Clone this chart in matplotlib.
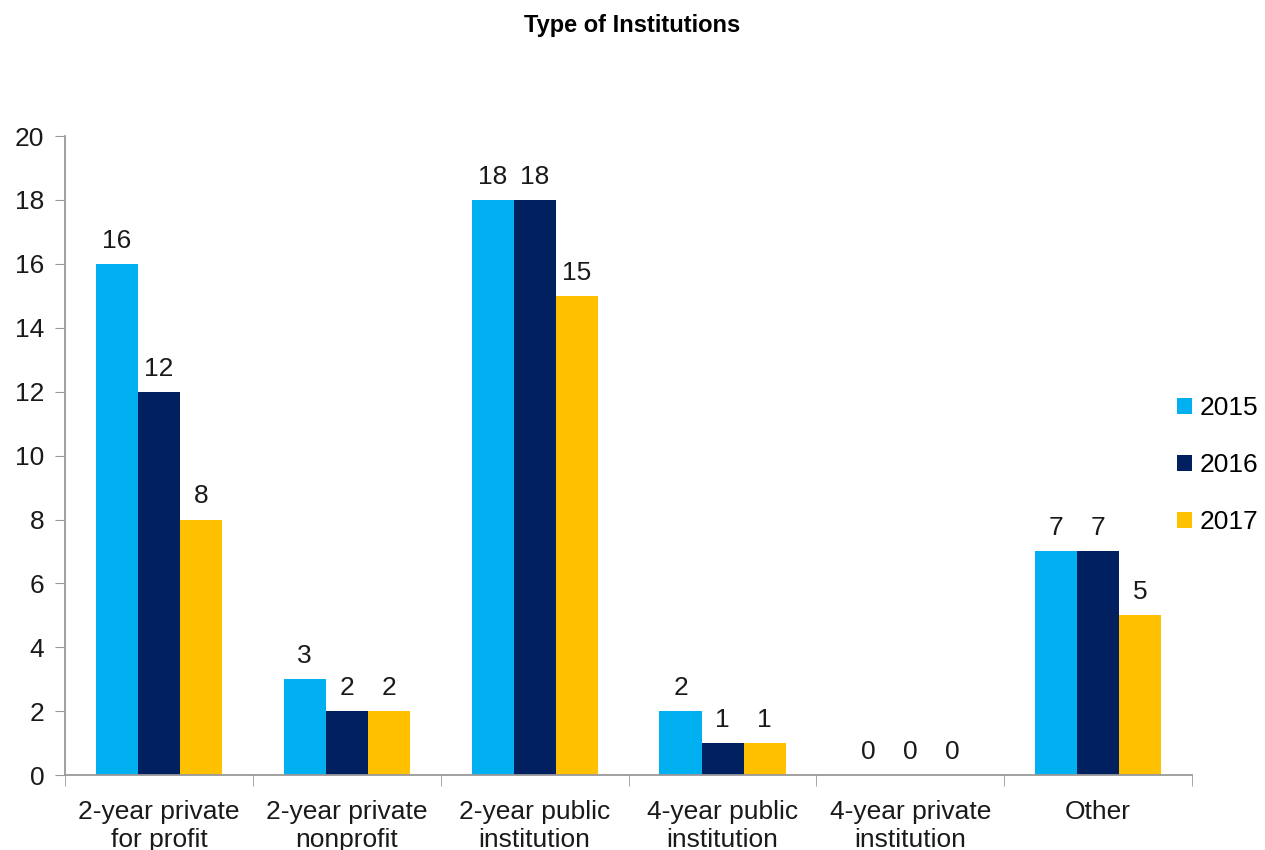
import numpy as np
import matplotlib.pyplot as plt

plt.rcParams['font.family'] = ['Liberation Sans', 'DejaVu Sans']

categories = ["2-year private\nfor profit", "2-year private\nnonprofit", "2-year public\ninstitution",
              "4-year public\ninstitution", "4-year private\ninstitution", "Other"]
years = ["2015", "2016", "2017"]
counts_2015 = [16, 3, 18, 2, 0, 7]
counts_2016 = [12, 2, 18, 1, 0, 7]
counts_2017 = [8, 2, 15, 1, 0, 5]
colors = ["#00B0F0", "#002060", "#FFC000"]

fig = plt.figure(figsize=(12.65, 8.5), dpi=100, facecolor="w")
ax = fig.add_axes([0.0514, 0.088, 0.891, 0.752])

x = np.arange(len(categories))
w = 0.2236
for i, (vals, yr) in enumerate(zip([counts_2015, counts_2016, counts_2017], years)):
    bars = ax.bar(x + (i - 1) * w, vals, w, color=colors[i], label=yr)
    for b, v in zip(bars, vals):
        ax.annotate(str(v), (b.get_x() + b.get_width() / 2, v), xytext=(0, 8),
                    textcoords="offset points", ha="center", va="bottom", fontsize=19, color="#1a1a1a")

ax.set_xlim(-0.5, len(categories) - 0.5)
ax.set_ylim(0, 20)
ax.set_yticks(range(0, 21, 2))
ax.tick_params(axis="y", labelsize=19, length=7, color="#999999", pad=8, labelcolor="#1a1a1a")
ax.set_xticks(x)
ax.set_xticklabels(categories, fontsize=19, color="#1a1a1a")
ax.tick_params(axis="x", length=0, pad=18)
# tick marks between the groups
ax.set_xticks(np.arange(-0.5, len(categories) + 0.5, 1), minor=True)
ax.tick_params(axis="x", which="minor", length=8, color="#999999")

for s in ["top", "right"]:
    ax.spines[s].set_visible(False)
for s in ["left", "bottom"]:
    ax.spines[s].set_color("#999999")
    ax.spines[s].set_linewidth(1.3)

fig.text(0.5, 0.97, "Type of Institutions", ha="center", va="center", fontsize=17, fontweight="bold")

fig.legend(loc="center left", bbox_to_anchor=(0.912, 0.453), frameon=False, fontsize=19,
           handlelength=0.55, handleheight=0.55, handletextpad=0.3, labelspacing=1.25)

fig.savefig("out.png", dpi=100)
